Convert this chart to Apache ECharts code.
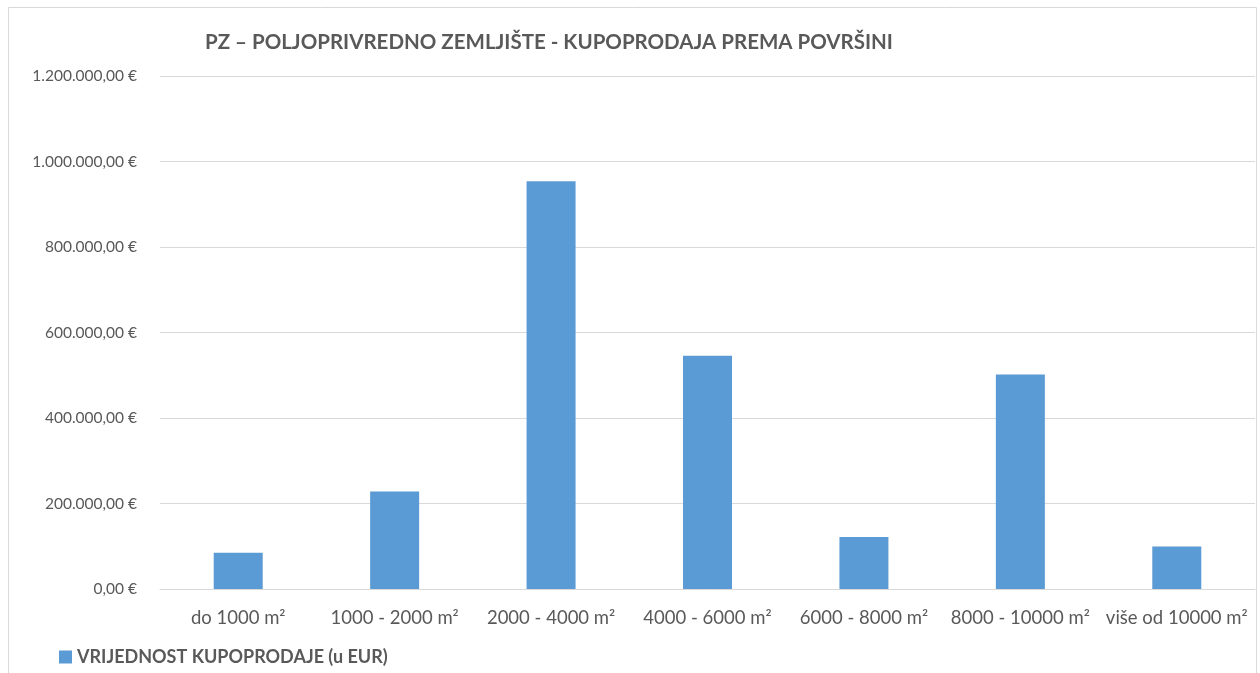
<!DOCTYPE html>
<html><head><meta charset="utf-8">
<script src="https://cdn.jsdelivr.net/npm/echarts@6/dist/echarts.min.js"></script>
<style>html,body{margin:0;padding:0;background:#fff;}#c{width:1260px;height:673px;}</style>
</head><body><div id="c"></div>
<script>
const categories = ['do 1000 m²','1000 - 2000 m²','2000 - 4000 m²','4000 - 6000 m²','6000 - 8000 m²','8000 - 10000 m²','više od 10000 m²'];
const values = [85000, 228000, 954000, 545500, 121500, 501500, 99500];
const seriesName = 'VRIJEDNOST KUPOPRODAJE (u EUR)';
const titleText = 'PZ – POLJOPRIVREDNO ZEMLJIŠTE - KUPOPRODAJA PREMA POVRŠINI';

function fmt(v){
  const s = Math.round(v).toString().replace(/\B(?=(\d{3})+(?!\d))/g,'.');
  return s + ',00 €';
}
const FONT = 'Lato';
const chart = echarts.init(document.getElementById('c'), null, {renderer:'canvas'});
chart.setOption({
  animation:false,
  textStyle:{fontFamily:FONT},
  graphic:[{type:'rect',shape:{x:8.5,y:7.5,width:1248,height:700},style:{fill:'none',stroke:'#d9d9d9',lineWidth:1},silent:true,z:-1}],
  title:{text:titleText,left:200,top:27,textStyle:{fontFamily:FONT,fontSize:20.5,fontWeight:'bold',color:'#595959'}},
  legend:{left:54,top:643,itemWidth:13,itemHeight:13,itemGap:6,icon:'rect',
    textStyle:{fontFamily:FONT,fontSize:18,fontWeight:'bold',color:'#595959'},data:[seriesName]},
  grid:{left:160,right:5,top:76,bottom:84,containLabel:false},
  xAxis:{type:'category',data:categories,
    axisLine:{show:true,lineStyle:{color:'#d9d9d9',width:1}},axisTick:{show:false},
    axisLabel:{fontFamily:FONT,fontSize:18.5,color:'#595959',margin:20,interval:0}},
  yAxis:{type:'value',min:0,max:1200000,interval:200000,
    axisLine:{show:false},axisTick:{show:false},
    splitLine:{lineStyle:{color:'#d9d9d9',width:1}},
    axisLabel:{fontFamily:FONT,fontSize:15.5,color:'#595959',margin:23,formatter:fmt}},
  series:[{name:seriesName,type:'bar',data:values,barWidth:49,
    itemStyle:{color:'#5b9bd5'}}]
});
</script></body></html>
